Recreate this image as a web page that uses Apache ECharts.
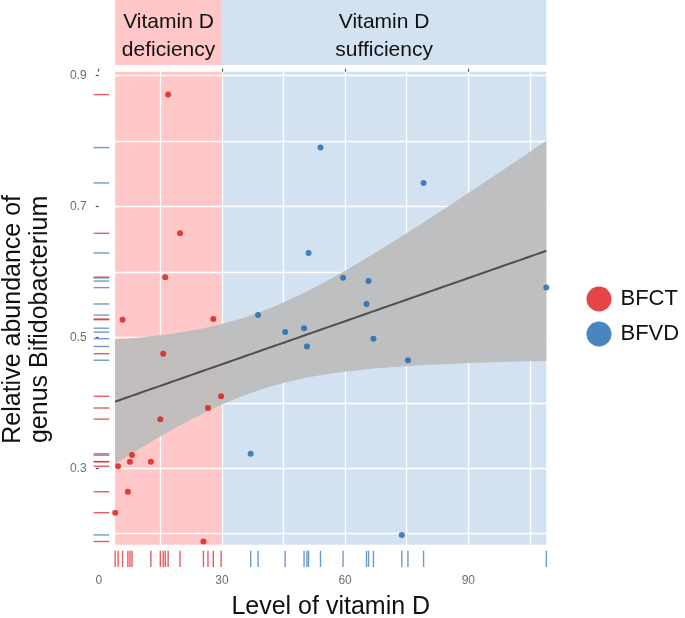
<!DOCTYPE html>
<html><head><meta charset="utf-8">
<script src="https://cdn.jsdelivr.net/npm/echarts@6/dist/echarts.min.js"></script>
<style>html,body{margin:0;padding:0;background:#fff}#c{width:685px;height:618px}</style>
</head><body><div id="c"></div>
<script>
// ---- data ----
const seriesNames = ['BFCT', 'BFVD'];
const bfctX = [4.0, 4.7, 5.8, 7.1, 7.6, 8.1, 12.7, 15.0, 15.7, 16.2, 16.9, 19.8, 25.5, 26.6, 27.9, 29.8];
const bfctY = [0.232, 0.303, 0.527, 0.264, 0.310, 0.320, 0.310, 0.375, 0.475, 0.592, 0.871, 0.659, 0.188, 0.392, 0.528, 0.410];
const bfvdX = [54.0, 79.1, 51.1, 59.5, 65.7, 109.0, 65.2, 38.8, 50.0, 45.4, 66.9, 50.7, 75.3, 37.0, 73.8];
const bfvdY = [0.790, 0.736, 0.629, 0.591, 0.586, 0.576, 0.551, 0.534, 0.514, 0.508, 0.498, 0.486, 0.465, 0.322, 0.198];
const xTickLabels = [0, 30, 60, 90];
const yTickLabels = [0.3, 0.5, 0.7, 0.9];
const xGridValues = [0, 15, 30, 45, 60, 75, 90, 105];
const yGridValues = [0.2, 0.3, 0.4, 0.5, 0.6, 0.7, 0.8, 0.9];
const deficiencyThreshold = 30;
const headerLabels = ['Vitamin D\ndeficiency', 'Vitamin D\nsufficiency'];
const xRange = [-1.25, 114.25];
const yRange = [0.149, 0.906];
const bandYmin = 0.183;
const tQuantile = 2.045; // t(0.975, df = n - 2 = 29)

// ---- styling ----
const FONT = '"Liberation Sans", Arial, sans-serif';
const redPt = '#dc1815', bluePt = '#1c68b0';
const pinkBg = '#ffc7c8', blueBg = '#d3e2f0';
const rectColors = [pinkBg, blueBg];

// ---- linear fit with 95% confidence band (geom_smooth(method = "lm")) ----
const allX = bfctX.concat(bfvdX), allY = bfctY.concat(bfvdY);
const n = allX.length;
const mx = allX.reduce((s, v) => s + v, 0) / n;
const my = allY.reduce((s, v) => s + v, 0) / n;
let sxx = 0, sxy = 0;
for (let i = 0; i < n; i++) { sxx += (allX[i] - mx) ** 2; sxy += (allX[i] - mx) * (allY[i] - my); }
const slope = sxy / sxx, icpt = my - slope * mx;
let sse = 0;
for (let i = 0; i < n; i++) sse += (allY[i] - (icpt + slope * allX[i])) ** 2;
const sRes = Math.sqrt(sse / (n - 2));
const xMin = Math.min(...allX), xMax = Math.max(...allX);
const fitLine = [], upperBand = [], lowerBand = [];
for (let i = 0; i < 80; i++) {
  const x = xMin + (xMax - xMin) * i / 79;
  const yh = icpt + slope * x;
  const se = sRes * Math.sqrt(1 / n + (x - mx) ** 2 / sxx);
  fitLine.push([x, yh]);
  upperBand.push([x, yh + tQuantile * se]);
  lowerBand.push([x, yh - tQuantile * se]);
}
const regions = [[xMin, deficiencyThreshold], [deficiencyThreshold, xMax]];

const chart = echarts.init(document.getElementById('c'));

function rugSeries(xs, ys, color) {
  return {
    type: 'custom', z: 12, silent: true,
    data: xs.map((x, i) => [x, ys[i]]),
    renderItem: function (params, api) {
      const cs = params.coordSys;
      const p = api.coord([api.value(0), api.value(1)]);
      const bottom = cs.y + cs.height, left = cs.x;
      return {
        type: 'group', children: [
          { type: 'line', shape: { x1: p[0], y1: bottom, x2: p[0], y2: bottom - 0.033 * cs.height }, style: { stroke: color, lineWidth: 1.4 } },
          { type: 'line', shape: { x1: left, y1: p[1], x2: left + 0.033 * cs.width, y2: p[1] }, style: { stroke: color, lineWidth: 1.4 } }
        ]
      };
    }
  };
}

const gridCommon = { left: 93.6, right: 117.1, containLabel: false, outerBoundsMode: 'none' };

const option = {
  animation: false,
  backgroundColor: '#fff',
  textStyle: { fontFamily: FONT },
  grid: [
    Object.assign({ top: 71.7, bottom: 51 }, gridCommon),
    Object.assign({ top: 0, height: 65 }, gridCommon)
  ],
  legend: {
    data: seriesNames, orient: 'vertical', left: 581.5, top: 281.5,
    icon: 'circle', itemWidth: 25, itemHeight: 25, itemGap: 10,
    textStyle: { fontSize: 22, color: '#111', fontFamily: FONT, padding: [0, 0, 0, 4] }
  },
  xAxis: [
    {
      gridIndex: 0, type: 'value', min: xRange[0], max: xRange[1], z: 2,
      name: 'Level of vitamin D', nameLocation: 'middle', nameGap: 28,
      nameTextStyle: { fontSize: 25, color: '#111', fontFamily: FONT },
      axisLine: { show: false },
      axisTick: { show: false, customValues: xGridValues },
      axisLabel: { customValues: xTickLabels, margin: 8, fontSize: 12, color: '#6e6e6e', fontFamily: FONT, formatter: v => String(v) },
      splitLine: { show: true, lineStyle: { color: '#ffffff', width: 1.3 } }
    },
    {
      gridIndex: 0, type: 'value', min: xRange[0], max: xRange[1], z: 2,
      axisLine: { show: false },
      axisTick: { show: true, customValues: xTickLabels, length: 3, lineStyle: { color: '#555', width: 1.2 } },
      axisLabel: { show: false }, splitLine: { show: false }
    },
    {
      gridIndex: 1, type: 'value', min: xRange[0], max: xRange[1], show: false,
      splitLine: { show: false }
    }
  ],
  yAxis: [
    {
      gridIndex: 0, type: 'value', min: yRange[0], max: yRange[1], z: 2,
      name: 'Relative abundance of\ngenus Bifidobacterium', nameLocation: 'middle', nameGap: 40,
      nameTextStyle: { fontSize: 25, color: '#111', fontFamily: FONT, lineHeight: 27 },
      axisLine: { show: false },
      axisTick: { show: false, customValues: yGridValues },
      axisLabel: { customValues: yTickLabels, margin: 7, fontSize: 12, color: '#6e6e6e', fontFamily: FONT, formatter: v => v.toFixed(1) },
      splitLine: { show: true, lineStyle: { color: '#ffffff', width: 1.3 } }
    },
    {
      gridIndex: 0, type: 'value', min: yRange[0], max: yRange[1], z: 2, position: 'left',
      axisLine: { show: false },
      axisTick: { show: true, customValues: yTickLabels, length: 3, lineStyle: { color: '#555', width: 1.2 } },
      axisLabel: { show: false }, splitLine: { show: false }
    },
    {
      gridIndex: 1, type: 'value', min: 0, max: 1, show: false, splitLine: { show: false }
    }
  ],
  series: [
    {
      type: 'custom', z: 1, silent: true, xAxisIndex: 0, yAxisIndex: 0,
      data: regions,
      renderItem: function (params, api) {
        const p0 = api.coord([api.value(0), yRange[1]]);
        const p1 = api.coord([api.value(1), bandYmin]);
        return { type: 'rect', shape: { x: p0[0], y: p0[1], width: p1[0] - p0[0], height: p1[1] - p0[1] }, style: { fill: rectColors[params.dataIndex] } };
      }
    },
    {
      type: 'custom', z: 1, silent: true, xAxisIndex: 2, yAxisIndex: 2,
      data: regions,
      renderItem: function (params, api) {
        const p0 = api.coord([api.value(0), 1]);
        const p1 = api.coord([api.value(1), 0]);
        return {
          type: 'rect', shape: { x: p0[0], y: p0[1], width: p1[0] - p0[0], height: p1[1] - p0[1] },
          style: { fill: rectColors[params.dataIndex] },
          textContent: { style: { text: headerLabels[params.dataIndex], fontSize: 21, fontFamily: FONT, fill: '#111', lineHeight: 28, align: 'center' } },
          textConfig: { position: 'inside', offset: [0, 4] }
        };
      }
    },
    {
      type: 'custom', z: 10, silent: true, xAxisIndex: 0, yAxisIndex: 0,
      data: [fitLine[0]],
      renderItem: function (params, api) {
        const pts = upperBand.map(p => api.coord(p)).concat(lowerBand.slice().reverse().map(p => api.coord(p)));
        return { type: 'polygon', shape: { points: pts }, style: { fill: 'rgba(188,188,188,0.92)' } };
      }
    },
    {
      type: 'line', z: 11, silent: true, data: fitLine, showSymbol: false, symbol: 'none',
      lineStyle: { color: '#4f4f4f', width: 2 }
    },
    rugSeries(bfctX, bfctY, 'rgba(222,40,40,0.75)'),
    rugSeries(bfvdX, bfvdY, 'rgba(60,120,185,0.75)'),
    {
      name: seriesNames[0], type: 'scatter', z: 13, symbolSize: 6,
      itemStyle: { color: redPt }, data: bfctX.map((x, i) => [x, bfctY[i]])
    },
    {
      name: seriesNames[1], type: 'scatter', z: 13, symbolSize: 6,
      itemStyle: { color: bluePt }, data: bfvdX.map((x, i) => [x, bfvdY[i]])
    }
  ]
};
chart.setOption(option);
</script>
</body></html>
